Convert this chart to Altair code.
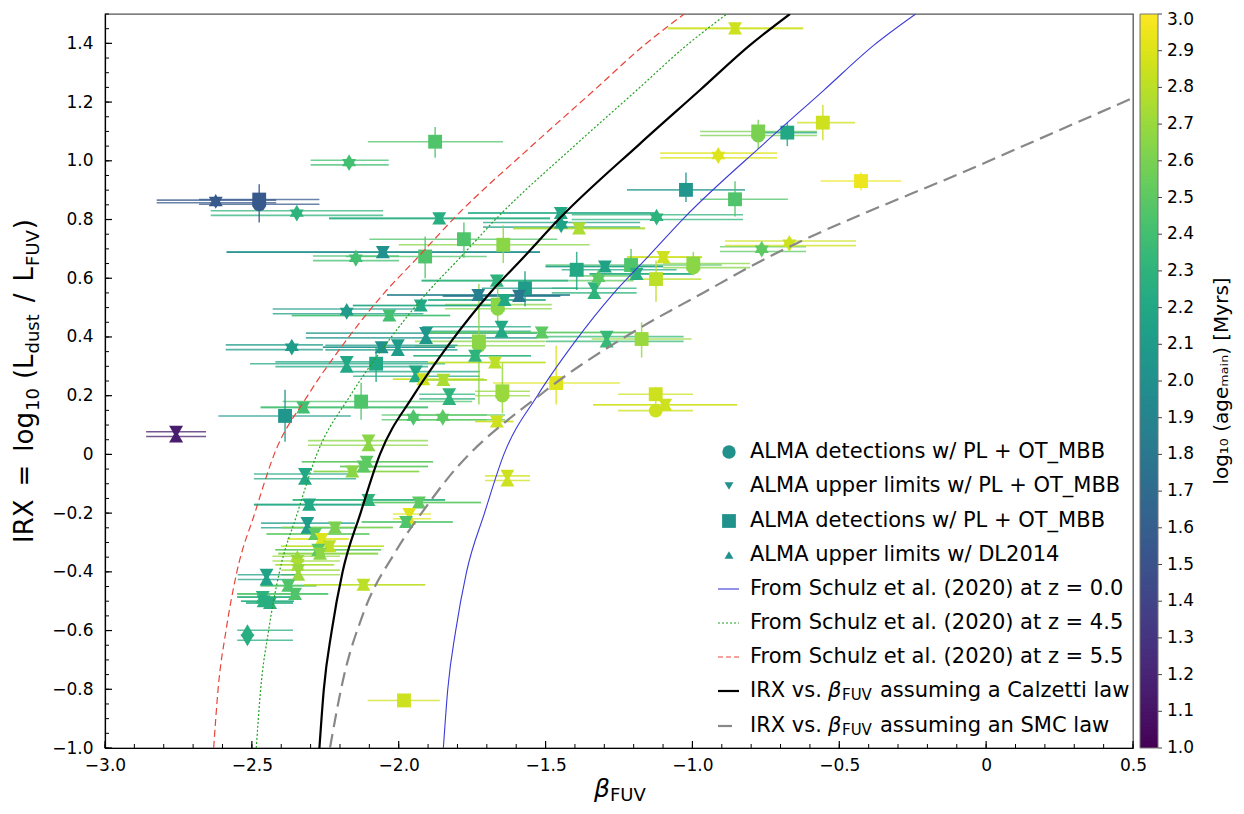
import altair as alt
import pandas as pd

FONT = "DejaVu Sans"

# ---------------- detections (square; circle too for shield-shaped points) ----------------
det_beta    = [-2.475, -1.876, -1.910, -1.778, -1.644, -1.022, -0.855, -0.776, -0.677, -0.556, -0.426, -2.077, -2.128,
               -2.387, -1.394, -1.209, -1.124, -0.997, -1.570, -1.663, -1.727, -1.647, -1.464, -1.125, -1.982, -1.173]
det_irx_sq  = [0.868, 1.065, 0.674, 0.733, 0.714, 0.901, 0.869, 1.100, 1.096, 1.130, 0.931, 0.309, 0.180,
               0.131, 0.629, 0.645, 0.597, 0.650, 0.566, 0.510, 0.385, 0.215, 0.243, 0.205, -0.838, 0.393]
det_irx_ci  = [0.852, None, None, None, None, None, None, 1.086, None, None, None, None, None,
               None, None, None, None, 0.636, None, 0.496, 0.370, 0.200, None, 0.149, None, None]
det_irx_lo  = [0.79, 1.01, 0.60, 0.67, 0.652, 0.86, 0.81, 1.04, 1.05, 1.07, 0.90, 0.247, 0.118,
               0.043, 0.56, 0.60, 0.52, 0.61, 0.505, 0.44, 0.17, 0.14, 0.17, 0.13, -0.838, 0.33]
det_irx_hi  = [0.92, 1.115, 0.742, 0.79, 0.78, 0.96, 0.93, 1.14, 1.13, 1.19, 0.96, 0.366, 0.244,
               0.22, 0.69, 0.70, 0.66, 0.69, 0.624, 0.57, 0.58, 0.31, 0.37, 0.23, -0.838, 0.45]
det_beta_lo = [-2.68, -2.105, -2.18, -2.10, -2.00, -1.223, -0.974, -0.974, -0.77, -0.644, -0.563, -2.506, -2.395,
               -2.614, -1.445, -1.50, -1.223, -1.10, -1.717, -1.842, -1.945, -1.74, -1.679, -1.253, -2.106, -1.343]
det_beta_hi = [-2.27, -1.645, -1.70, -1.46, -1.35, -0.821, -0.675, -0.576, -0.576, -0.446, -0.289, -1.842, -1.75,
               -2.163, -1.054, -0.90, -0.97, -0.804, -1.39, -1.479, -1.502, -1.553, -1.247, -0.998, -1.86, -1.003]
det_age     = [1.55, 2.45, 2.45, 2.45, 2.65, 2.05, 2.45, 2.6, 2.2, 2.85, 2.95, 2.2, 2.45,
               2.05, 2.2, 2.45, 2.8, 2.65, 2.1, 2.65, 2.65, 2.7, 2.9, 2.85, 2.85, 2.7]

# ---------------- upper limits (down triangle PL+OT_MBB, up triangle DL2014) ----------------
lim_beta = [-2.623, -2.169, -2.347, -1.862, -2.054, -2.146, -1.448, -1.447, -1.122, -1.386, -0.855, -0.912, -0.764,
            -0.670, -1.925, -1.729, -2.177, -2.032, -1.907, -2.364, -2.058, -2.003, -2.177, -1.942, -1.916, -1.848,
            -2.325, -2.758, -1.950, -1.850, -2.103, -2.109, -2.120, -2.158, -2.319, -1.666, -1.590, -1.640, -1.334,
            -1.298, -1.190, -1.320, -1.099, -1.650, -1.513, -1.740, -1.672, -1.292, -1.828, -1.093, -1.666, -1.630,
            -2.103, -2.305, -1.931, -1.964, -1.975, -2.311, -2.217, -2.285, -2.262, -2.236, -2.274, -2.268, -2.345,
            -2.344, -2.342, -2.450, -2.376, -2.120, -2.353, -2.463, -2.460, -2.438, -2.515]
lim_irx_down = [0.857, 0.986, 0.814, 0.804, 0.689, 0.660, 0.822, 0.774, 0.800, 0.770, 1.451, 1.010, 0.691,
                0.711, 0.507, 0.543, 0.479, 0.473, 0.413, 0.357, 0.365, 0.372, 0.315, 0.282, 0.256, 0.254,
                0.160, 0.077, 0.118, 0.118, 0.047, -0.025, -0.041, -0.058, -0.067, 0.592, 0.540, 0.526, 0.566,
                0.640, 0.615, 0.592, 0.672, 0.435, 0.415, 0.336, 0.313, 0.401, 0.205, 0.169, 0.112, -0.073,
                -0.155, -0.171, -0.164, -0.203, -0.230, -0.234, -0.249, -0.271, -0.288, -0.313, -0.325, -0.338, -0.363,
                -0.376, -0.394, -0.410, -0.447, -0.444, -0.475, -0.486, -0.500, -0.506, -0.633]
lim_irx_up = [0.866, 1.002, 0.830, 0.804, 0.689, 0.676, 0.822, 0.790, 0.816, 0.770, 1.451, 1.026, 0.707,
              0.727, 0.507, 0.543, 0.495, 0.473, 0.397, 0.373, 0.365, 0.356, 0.299, 0.266, 0.256, 0.254,
              0.160, 0.061, 0.134, 0.134, 0.031, -0.025, -0.041, -0.058, -0.083, 0.592, 0.540, 0.526, 0.550,
              0.640, 0.615, 0.608, 0.672, 0.419, 0.415, 0.336, 0.313, 0.385, 0.189, 0.169, 0.112, -0.089,
              -0.155, -0.171, -0.164, -0.219, -0.230, -0.250, -0.249, -0.271, -0.288, -0.313, -0.325, -0.338, -0.347,
              -0.376, -0.410, -0.426, -0.447, -0.444, -0.475, -0.486, -0.500, -0.506, -0.599]
lim_beta_lo = [-2.824, -2.30, -2.64, -2.237, -2.586, -2.292, -1.764, -1.713, -1.411, -1.61, -1.083, -1.11, -0.906,
               -0.889, -2.156, -2.04, -2.429, -2.364, -2.316, -2.589, -2.258, -2.25, -2.42, -2.155, -2.02, -1.95,
               -2.47, -2.86, -2.058, -2.0, -2.309, -2.33, -2.20, -2.29, -2.493, -1.922, -1.85, -1.90, -1.479,
               -1.50, -1.35, -1.42, -1.223, -1.92, -1.90, -1.95, -1.90, -1.50, -1.93, -1.338, -1.74, -1.706,
               -2.361, -2.493, -2.126, -2.02, -2.126, -2.469, -2.40, -2.45, -2.38, -2.40, -2.42, -2.41, -2.43,
               -2.42, -2.40, -2.548, -2.47, -2.322, -2.55, -2.55, -2.537, -2.52, -2.55]
lim_beta_hi = [-2.417, -2.034, -2.053, -1.485, -1.519, -1.999, -1.121, -1.178, -0.828, -1.161, -0.623, -0.712, -0.613,
               -0.443, -1.665, -1.417, -1.916, -1.825, -1.529, -2.258, -1.808, -1.80, -1.90, -1.723, -1.71, -1.70,
               -1.90, -2.656, -1.638, -1.70, -1.90, -1.883, -1.90, -1.93, -2.145, -1.422, -1.45, -1.50, -1.19,
               -1.10, -1.00, -1.20, -0.967, -1.55, -1.20, -1.55, -1.50, -1.03, -1.74, -0.848, -1.61, -1.553,
               -1.842, -2.126, -1.72, -1.89, -1.816, -2.149, -2.02, -2.10, -2.17, -2.05, -2.06, -2.07, -2.20,
               -2.22, -2.20, -2.347, -2.28, -1.91, -2.24, -2.35, -2.357, -2.36, -2.36]
lim_age = [1.55, 2.4, 2.3, 2.25, 2.0, 2.4, 2.2, 2.15, 2.3, 2.75, 2.85, 2.9, 2.5,
           2.85, 2.2, 1.85, 2.1, 2.4, 2.05, 2.1, 2.0, 2.1, 2.2, 2.2, 2.85, 2.75,
           2.4, 1.15, 2.45, 2.5, 2.65, 2.5, 2.5, 2.65, 2.2, 2.3, 1.8, 2.2, 2.3,
           2.15, 2.25, 2.5, 2.85, 2.2, 2.5, 2.3, 2.8, 2.35, 2.3, 2.85, 2.85, 2.85,
           2.3, 2.2, 2.5, 2.9, 2.45, 2.1, 2.6, 2.5, 2.9, 2.8, 2.5, 2.65, 2.7,
           2.75, 2.7, 2.15, 2.45, 2.8, 2.45, 2.3, 2.25, 2.25, 2.25]

# ---------------- model curves ----------------
curve_irx = [-1.0, -0.8, -0.6, -0.4, -0.2, 0.0, 0.2, 0.38, 0.55, 0.669, 0.805, 1.057, 1.241, 1.394, 1.5]
calz_beta = [-2.270, -2.255, -2.228, -2.191, -2.130, -2.064, -1.950, -1.825, -1.689, -1.577, -1.451, -1.180, -0.974, -0.804, -0.668]
z00_beta  = [-1.848, -1.833, -1.806, -1.769, -1.708, -1.642, -1.528, -1.403, -1.267, -1.155, -1.029, -0.758, -0.552, -0.382, -0.240]
z45_beta  = [-2.485, -2.470, -2.443, -2.406, -2.345, -2.279, -2.165, -2.040, -1.904, -1.792, -1.666, -1.395, -1.189, -1.019, -0.883]
z55_beta  = [-2.630, -2.615, -2.588, -2.551, -2.490, -2.424, -2.310, -2.185, -2.049, -1.937, -1.811, -1.540, -1.334, -1.164, -1.028]
smc_beta = [-2.234, -2.190, -2.120, -2.010, -1.893, -1.840, -1.509, -1.178, -0.964, -0.804, 0.000, 0.500]
smc_irx  = [-1.000, -0.770, -0.540, -0.330, -0.160, -0.090, 0.210, 0.431, 0.550, 0.639, 0.995, 1.214]

x_ticks = [-3.0, -2.5, -2.0, -1.5, -1.0, -0.5, 0.0, 0.5]
y_ticks = [-1.0, -0.8, -0.6, -0.4, -0.2, 0.0, 0.2, 0.4, 0.6, 0.8, 1.0, 1.2, 1.4]
cbar_ticks = [round(1.0 + 0.1 * i, 1) for i in range(21)]

legend_labels = ["ALMA detections w/ PL + OT_MBB", "ALMA upper limits w/ PL + OT_MBB",
                 "ALMA detections w/ PL + OT_MBB", "ALMA upper limits w/ DL2014",
                 "From Schulz et al. (2020) at z = 0.0", "From Schulz et al. (2020) at z = 4.5",
                 "From Schulz et al. (2020) at z = 5.5"]

# ---------------- tables ----------------
W, H = 1028, 734
xs = alt.Scale(domain=[-3.0, 0.5], nice=False, zero=False)
ys = alt.Scale(domain=[-1.0, 1.5], nice=False, zero=False)
cs = alt.Scale(scheme="viridis", domain=[1.0, 3.0])

markers, errs, verts = [], [], []
for b, sq, ci, lo, hi, blo, bhi, a in zip(det_beta, det_irx_sq, det_irx_ci, det_irx_lo, det_irx_hi,
                                         det_beta_lo, det_beta_hi, det_age):
    markers.append(dict(beta=b, irx=sq, age=a, shape="square"))
    errs.append(dict(blo=blo, bhi=bhi, irx=sq, age=a))
    if ci is not None:
        markers.append(dict(beta=b, irx=ci, age=a, shape="circle"))
        errs.append(dict(blo=blo, bhi=bhi, irx=ci, age=a))
    if hi > lo:
        verts.append(dict(beta=b, lo=lo, hi=hi, age=a))
for b, d, u, blo, bhi, a in zip(lim_beta, lim_irx_down, lim_irx_up, lim_beta_lo, lim_beta_hi, lim_age):
    markers.append(dict(beta=b, irx=d, age=a, shape="triangle-down"))
    markers.append(dict(beta=b, irx=u, age=a, shape="triangle-up"))
    errs.append(dict(blo=blo, bhi=bhi, irx=d, age=a))
    errs.append(dict(blo=blo, bhi=bhi, irx=u, age=a))
markers = pd.DataFrame(markers)
errs = pd.DataFrame(errs)
verts = pd.DataFrame(verts)

xaxis = alt.Axis(values=x_ticks, labelExpr="datum.value == 0 ? '0' : format(datum.value, '.1f')",
                 grid=False, ticks=False, title=None, labelFont=FONT, labelFontSize=17, labelColor="black",
                 domainColor="black", domainWidth=1.2, labelPadding=9, labelFlush=False, labelOverlap=False)
yaxis = alt.Axis(values=y_ticks, labelExpr="datum.value == 0 ? '0' : format(datum.value, '.1f')",
                 grid=False, ticks=False, title=None, labelFont=FONT, labelFontSize=17, labelColor="black",
                 domainColor="black", domainWidth=1.2, labelPadding=12, labelFlush=False, labelOverlap=False)
col = alt.Color("age:Q", scale=cs, legend=None)

def X(f):
    return alt.X(f, scale=xs, axis=xaxis)

def Y(f):
    return alt.Y(f, scale=ys, axis=yaxis)

layers = []
layers.append(alt.Chart(errs).mark_rule(strokeWidth=1.6, opacity=0.75, clip=True).encode(
    x=X("blo:Q"), x2="bhi:Q", y=Y("irx:Q"), color=col))
layers.append(alt.Chart(verts).mark_rule(strokeWidth=1.5, opacity=0.85, clip=True).encode(
    x=X("beta:Q"), y=Y("lo:Q"), y2="hi:Q", color=col))
layers.append(alt.Chart(markers).mark_point(filled=True, opacity=1, clip=True).encode(
    x=X("beta:Q"), y=Y("irx:Q"), color=col,
    shape=alt.Shape("shape:N", scale=alt.Scale(domain=["circle", "square", "triangle-down", "triangle-up"],
                                               range=["circle", "square", "triangle-down", "triangle-up"]),
                    legend=None),
    size=alt.Size("shape:N", scale=alt.Scale(domain=["circle", "square", "triangle-down", "triangle-up"],
                                             range=[190, 196, 105, 105]), legend=None)))

def curve(bs, irs, color, width, dash=None):
    m = dict(color=color, strokeWidth=width, clip=True, interpolate="monotone")
    if dash:
        m["strokeDash"] = dash
    return alt.Chart(pd.DataFrame({"beta": bs, "irx": irs})).mark_line(**m).encode(
        x=X("beta:Q"), y=Y("irx:Q"), order="beta:Q")

BLUE, GREEN, RED = "#3a3ad8", "#22a022", "#e8443a"
layers.append(curve(z00_beta, curve_irx, BLUE, 1.1))
layers.append(curve(z45_beta, curve_irx, GREEN, 1.2, [2, 2]))
layers.append(curve(z55_beta, curve_irx, RED, 1.2, [7, 4]))
layers.append(curve(calz_beta, curve_irx, "black", 2.2))
layers.append(curve(smc_beta, smc_irx, "#888888", 2.2, [14, 7]))

# inward ticks
x_minor = [round(-3.0 + 0.1 * i, 2) for i in range(36)]
y_minor = [round(-1.0 + 0.05 * i, 2) for i in range(51)]
layers.append(alt.Chart(pd.DataFrame({"v": x_minor})).mark_rule(color="black", strokeWidth=1).encode(
    x=X("v:Q"), y=alt.value(H), y2=alt.value(H - 4)))
layers.append(alt.Chart(pd.DataFrame({"v": x_ticks})).mark_rule(color="black", strokeWidth=1.2).encode(
    x=X("v:Q"), y=alt.value(H), y2=alt.value(H - 7)))
layers.append(alt.Chart(pd.DataFrame({"v": y_minor})).mark_rule(color="black", strokeWidth=1).encode(
    y=Y("v:Q"), x=alt.value(0), x2=alt.value(4)))
layers.append(alt.Chart(pd.DataFrame({"v": y_ticks})).mark_rule(color="black", strokeWidth=1.2).encode(
    y=Y("v:Q"), x=alt.value(0), x2=alt.value(7)))

one = pd.DataFrame({"k": [0]})

# ---------------- colour bar (drawn through the same colour scale) ----------------
CB_X0, CB_X1 = 1035, 1053
steps = pd.DataFrame({"age": [1.0 + 0.01 * i for i in range(200)]})
layers.append(alt.Chart(steps).transform_calculate(
    cy1=f"max(0, (3 - datum.age - 0.014) / 2 * {H})", cy2=f"min({H}, (3 - datum.age + 0.002) / 2 * {H})").mark_rect(
    strokeWidth=0).encode(
    x=alt.value(CB_X0), x2=alt.value(CB_X1),
    y=alt.Y("cy1:Q", scale=None), y2="cy2:Q", color=col))
cbt = pd.DataFrame({"v": cbar_ticks})
layers.append(alt.Chart(one).mark_rect(
    fillOpacity=0, stroke="#777", strokeWidth=1).encode(
    x=alt.value(CB_X0), x2=alt.value(CB_X1), y=alt.value(0), y2=alt.value(H)))
layers.append(alt.Chart(cbt).transform_calculate(
    cy=f"(3 - datum.v) / 2 * {H}").mark_rule(color="#444", strokeWidth=1).encode(
    x=alt.value(CB_X1), x2=alt.value(CB_X1 + 4), y=alt.Y("cy:Q", scale=None)))
layers.append(alt.Chart(cbt).transform_calculate(
    cy=f"max(6, (3 - datum.v) / 2 * {H})", lab="format(datum.v, '.1f')").mark_text(
    align="left", baseline="middle", font=FONT, fontSize=17, color="black").encode(
    x=alt.value(CB_X1 + 9), y=alt.Y("cy:Q", scale=None), text="lab:N"))

def txt(s, x, y, size, align="left", baseline="middle", angle=0, style="normal"):
    return alt.Chart(one).mark_text(text=s, align=align, baseline=baseline, angle=angle, fontSize=size,
                                    font=FONT, fontStyle=style, color="black").encode(
        x=alt.value(x), y=alt.value(y))

def sym(shape, x, y, size):
    return alt.Chart(one).mark_point(shape=shape, filled=True, size=size, color="#21918c", opacity=1).encode(
        x=alt.value(x), y=alt.value(y))

def lline(y, color, width, dash=None):
    m = dict(color=color, strokeWidth=width)
    if dash:
        m["strokeDash"] = dash
    return alt.Chart(one).mark_rule(**m).encode(x=alt.value(613), x2=alt.value(634), y=alt.value(y))

# manual legend
rows = [438, 472, 507, 541, 575, 609, 643, 677, 712]
LX, LFS = 645, 21
layers.append(sym("circle", 624, rows[0], 180))
layers.append(sym("triangle-down", 624, rows[1], 80))
layers.append(sym("square", 624, rows[2], 190))
layers.append(sym("triangle-up", 624, rows[3], 80))
layers.append(lline(rows[4], BLUE, 1.1))
layers.append(lline(rows[5], GREEN, 1.2, [2, 2]))
layers.append(lline(rows[6], RED, 1.2, [5, 3]))
layers.append(lline(rows[7], "black", 2.2))
layers.append(lline(rows[8], "#888888", 2.2, [14, 7]))
for lab, ry in zip(legend_labels, rows[:7]):
    layers.append(txt(lab, LX, ry, LFS))
for ry, tail in [(rows[7], "assuming a Calzetti law"), (rows[8], "assuming an SMC law")]:
    layers.append(txt("IRX vs.", LX, ry, LFS))
    layers.append(txt("β", 723, ry, LFS, style="italic"))
    layers.append(txt("FUV", 737, ry + 4, 15))
    layers.append(txt(tail, 775, ry, LFS))

# y-axis title composed of pieces (subscripts), reading bottom to top
EM = {'I': .295, 'R': .695, 'X': .685, ' ': .318, '=': .838, 'l': .278, 'o': .612, 'g': .635, '1': .636,
      '0': .636, '(': .390, 'L': .557, 'd': .635, 'u': .634, 's': .521, 't': .392, '/': .337, 'F': .575,
      'U': .732, 'V': .684, ')': .390}

def tw(s, size):
    return sum(EM.get(c, 0.6) for c in s) * size

FT, FS = 26, 18
# (gap before in px, text, font size, baseline shift)
ypieces = [(0, "IRX", FT, 0), (13, "=", FT, 0), (13, "log", FT, 0), (1, "10", FS, 6), (9, "(L", FT, 0),
           (1, "dust", FS, 6), (12, "/", FT, 0), (12, "L", FT, 0), (1, "FUV", FS, 6), (1, ")", FT, 0)]
total = sum(g + tw(s, f) for g, s, f, _ in ypieces)
pos = H / 2 + total / 2
for g, s, f, sh in ypieces:
    pos -= g
    layers.append(txt(s, -72 + sh, pos, f, baseline="alphabetic", angle=270))
    pos -= tw(s, f)

layers.append(txt("β", 489, 783, 25, baseline="alphabetic", style="italic"))
layers.append(txt("FUV", 505, 787, 18, baseline="alphabetic"))

# colorbar title
layers.append(txt("log₁₀ (ageₘₐᵢₙ) [Myrs]", 1117, H / 2, 20, align="center", baseline="middle", angle=270))

chart = alt.layer(*layers).properties(
    width=W, height=H,
    autosize=alt.AutoSizeParams(type="none"),
    padding={"left": 97, "top": 6, "right": 103, "bottom": 58},
).configure_view(stroke="#555", strokeWidth=1.3)

chart.save("out.html", embed_options={"renderer": "svg", "actions": False})
